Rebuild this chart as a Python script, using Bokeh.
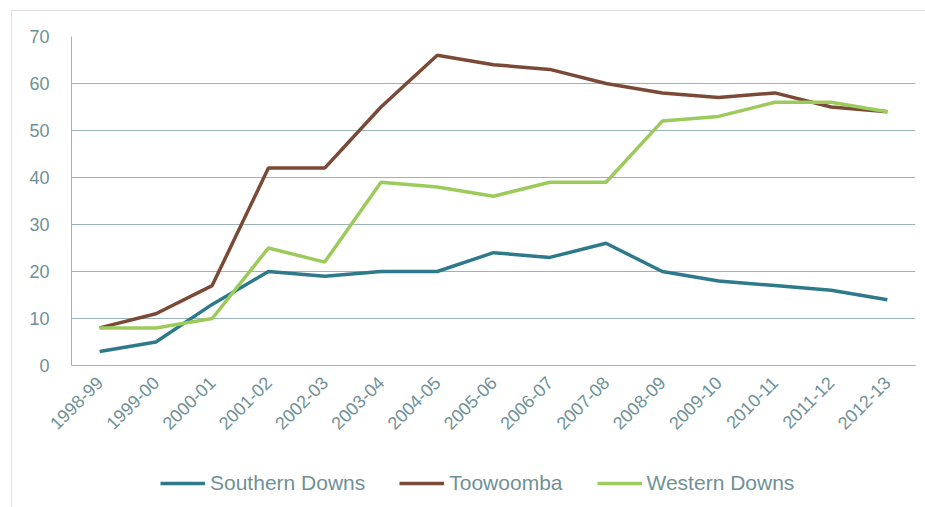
from bokeh.plotting import figure
from bokeh.models import Range1d, Legend, LegendItem, FixedTicker
from bokeh.layouts import column
from bokeh.embed import file_html
from bokeh.resources import INLINE

years = ["1998-99", "1999-00", "2000-01", "2001-02", "2002-03", "2003-04", "2004-05",
         "2005-06", "2006-07", "2007-08", "2008-09", "2009-10", "2010-11", "2011-12", "2012-13"]
southern_downs = [3, 5, 13, 20, 19, 20, 20, 24, 23, 26, 20, 18, 17, 16, 14]
toowoomba = [8, 11, 17, 42, 42, 55, 66, 64, 63, 60, 58, 57, 58, 55, 54]
western_downs = [8, 8, 10, 25, 22, 39, 38, 36, 39, 39, 52, 53, 56, 56, 54]
y_ticks = [0, 10, 20, 30, 40, 50, 60, 70]
series_names = ["Southern Downs", "Toowoomba", "Western Downs"]
series_colors = ["#2f7a8a", "#7a4a36", "#9ccb5c"]
series_values = [southern_downs, toowoomba, western_downs]

TEXT = "#6f9196"
GRID = "#9ab3b6"
FONT = "Liberation Sans"

p = figure(x_range=years, y_range=Range1d(0, 70),
           width=913, height=449,
           output_backend="svg", toolbar_location=None,
           min_border_left=59, min_border_right=10, min_border_top=25, min_border_bottom=95)
p.outline_line_color = None
p.background_fill_color = "white"
p.border_fill_color = "white"

p.xgrid.grid_line_color = None
p.ygrid.grid_line_color = GRID
p.ygrid.grid_line_width = 1.2
p.ygrid.ticker = FixedTicker(ticks=y_ticks)

p.yaxis.ticker = FixedTicker(ticks=y_ticks)
p.yaxis.axis_line_color = GRID
p.yaxis.major_tick_line_color = None
p.yaxis.minor_tick_line_color = None
p.yaxis.major_label_text_color = TEXT
p.yaxis.major_label_text_font = FONT
p.yaxis.major_label_text_font_size = "18px"
p.yaxis.major_label_standoff = 16

p.xaxis.axis_line_color = GRID
p.xaxis.major_tick_line_color = None
p.xaxis.major_label_orientation = 0.785
p.xaxis.major_label_text_color = TEXT
p.xaxis.major_label_text_font = FONT
p.xaxis.major_label_text_font_size = "18px"
p.xaxis.major_label_standoff = 8

for vals, col in zip(series_values, series_colors):
    p.line(years, vals, line_color=col, line_width=3.5)

# legend strip below the chart (its frame is aligned with the chart's frame)
leg = figure(width=913, height=47, x_range=years, y_range=Range1d(-2, -1),
             x_axis_type=None, y_axis_type=None,
             output_backend="svg", toolbar_location=None,
             min_border_left=0, min_border_right=0, min_border_top=0, min_border_bottom=0)
leg.outline_line_color = None
leg.xgrid.grid_line_color = None
leg.ygrid.grid_line_color = None
items = []
for name, vals, col in zip(series_names, series_values, series_colors):
    # same series, lying outside this strip's visible y range: only the legend glyph shows
    r = leg.line(years, vals, line_color=col, line_width=3.5)
    items.append(LegendItem(label=name, renderers=[r]))
legend = Legend(items=items, orientation="horizontal", location=(89, 12),
                border_line_color=None, background_fill_alpha=0,
                padding=0, margin=0, spacing=34, glyph_width=45, glyph_height=20,
                label_standoff=5, label_text_font=FONT, label_text_font_size="21px",
                label_text_color=TEXT)
leg.add_layout(legend)

layout = column(p, leg, spacing=0)
layout.margin = (10, 0, 0, 11)
layout.styles = {"border-top": "1px solid #e2e2e2", "border-left": "1px solid #e2e2e2"}

open("out.html", "w").write(file_html(layout, INLINE))
